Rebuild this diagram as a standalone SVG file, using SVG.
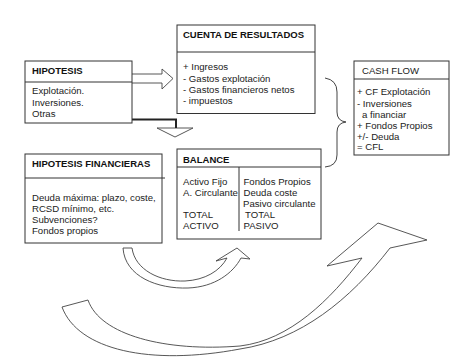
<svg xmlns="http://www.w3.org/2000/svg" width="450" height="363" viewBox="0 0 450 363">
<style>
.box{fill:#fff;stroke:#333;stroke-width:1}
.sep{stroke:#333;stroke-width:1;fill:none}
.t{font-family:"Liberation Sans",Arial,sans-serif;font-size:9.6px;fill:#222}
.b{font-family:"Liberation Sans",Arial,sans-serif;font-size:9.5px;font-weight:bold;fill:#111}
.c{fill:#fff;stroke:#444;stroke-width:0.9;stroke-linejoin:miter}
.ln{fill:none;stroke:#444;stroke-width:1}
</style>
<rect width="450" height="363" fill="#fff"/>
<g id="connectors">
  <path class="c" d="M132,74 L162,74 L162,69 L173,78.5 L162,89 L162,83 L132,83"/>
  <path class="c" d="M157,128 L193,128 L175,137 Z"/>
  <path d="M128,119.5 H176 V128" fill="none" stroke="#222" stroke-width="2"/>
  <path class="ln" d="M325,78 Q337,80 337,92 L337,112 Q337,121 346,122 Q337,123 337,132 L337,155 Q337,166 325,167"/>
  <path class="c" d="M123,248 L132,248 C135,270 160,282 185,281 C205,280 220,271 227,258 L216,261 L237,248 L250,259 L241,258 C233,273 215,287 188,288 C158,289 125,277 123,248 Z"/>
  <path class="c" d="M62,307 L88,300 C100,335 165,352 240,346 C290,340 330,300 362,258 L327,266 L378,223 L427,240 L390,248 C350,300 300,340 240,349 C150,366 78,350 62,307 Z"/>
</g>
<g id="hipotesis">
  <rect class="box" x="25" y="61" width="107" height="62"/>
  <line class="sep" x1="25" y1="82" x2="132" y2="82"/>
  <text class="b" x="32" y="74">HIPOTESIS</text>
  <text class="t" x="32" y="94">Explotación.</text>
  <text class="t" x="32" y="106">Inversiones.</text>
  <text class="t" x="32" y="117">Otras</text>
</g>
<g id="cuenta">
  <rect class="box" x="177" y="25" width="138" height="88.5"/>
  <line class="sep" x1="177" y1="52" x2="315" y2="52"/>
  <text class="b" x="183" y="37.5">CUENTA DE RESULTADOS</text>
  <text class="t" x="183" y="70">+ Ingresos</text>
  <text class="t" x="183" y="81.5">- Gastos explotación</text>
  <text class="t" x="183" y="92.5">- Gastos financieros netos</text>
  <text class="t" x="183" y="103.5">- impuestos</text>
</g>
<g id="cashflow">
  <rect class="box" x="354" y="61" width="95" height="94"/>
  <line class="sep" x1="354" y1="79" x2="449" y2="79"/>
  <text class="t" x="362" y="74">CASH FLOW</text>
  <text class="t" x="357" y="95">+ CF Explotación</text>
  <text class="t" x="357" y="107">- Inversiones</text>
  <text class="t" x="362" y="118">a financiar</text>
  <text class="t" x="357" y="129">+ Fondos Propios</text>
  <text class="t" x="357" y="140">+/- Deuda</text>
  <text class="t" x="357" y="150">= CFL</text>
</g>
<g id="hipotesis-financieras">
  <rect class="box" x="25" y="154" width="137" height="89"/>
  <line class="sep" x1="25" y1="178" x2="165" y2="178"/>
  <text class="b" x="32" y="167">HIPOTESIS FINANCIERAS</text>
  <text class="t" x="32" y="200.5">Deuda máxima: plazo, coste,</text>
  <text class="t" x="32" y="211.8">RCSD mínimo, etc.</text>
  <text class="t" x="32" y="223">Subvenciones?</text>
  <text class="t" x="32" y="234.3">Fondos propios</text>
</g>
<g id="balance">
  <rect class="box" x="177" y="149" width="144" height="90"/>
  <line class="sep" x1="177" y1="167" x2="321" y2="167"/>
  <line class="sep" x1="239" y1="167" x2="239" y2="231"/>
  <text class="b" x="183" y="163">BALANCE</text>
  <text class="t" x="183" y="185">Activo Fijo</text>
  <text class="t" x="183" y="196">A. Circulante</text>
  <text class="t" x="183" y="217.5">TOTAL</text>
  <text class="t" x="183" y="228.5">ACTIVO</text>
  <text class="t" x="243.5" y="185">Fondos Propios</text>
  <text class="t" x="243.5" y="196">Deuda coste</text>
  <text class="t" x="243" y="206.5">Pasivo circulante</text>
  <text class="t" x="245" y="217.5">TOTAL</text>
  <text class="t" x="243.5" y="228.5">PASIVO</text>
</g>
</svg>
